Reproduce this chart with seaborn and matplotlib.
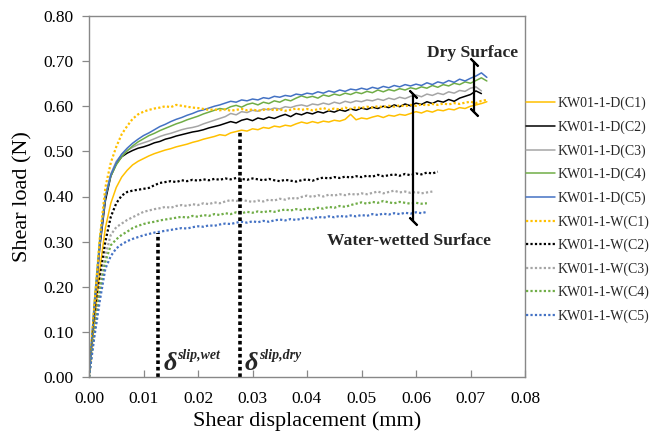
import numpy as np
import pandas as pd
import matplotlib
matplotlib.use("Agg")
import matplotlib.pyplot as plt
import seaborn as sns

# ---------------- data ----------------
STEP = 0.001  # mm between samples

d_c1 = [0.00, 0.12, 0.24, 0.33, 0.385, 0.420, 0.443, 0.458, 0.470, 0.478,
        0.484, 0.490, 0.495, 0.499, 0.503, 0.506, 0.510, 0.513, 0.516, 0.520,
        0.523, 0.527, 0.530, 0.533, 0.537, 0.535, 0.541, 0.544, 0.547, 0.545,
        0.550, 0.548, 0.553, 0.551, 0.556, 0.554, 0.558, 0.556, 0.561, 0.565,
        0.562, 0.566, 0.563, 0.567, 0.565, 0.569, 0.567, 0.571, 0.582, 0.570,
        0.574, 0.572, 0.576, 0.579, 0.575, 0.580, 0.578, 0.582, 0.580, 0.584,
        0.588, 0.585, 0.590, 0.587, 0.592, 0.590, 0.594, 0.592, 0.597, 0.595,
        0.600, 0.603, 0.606, 0.610]
d_c2 = [0.00, 0.15, 0.29, 0.39, 0.445, 0.472, 0.488, 0.496, 0.502, 0.507,
        0.510, 0.514, 0.519, 0.522, 0.527, 0.530, 0.534, 0.537, 0.540, 0.543,
        0.545, 0.548, 0.552, 0.555, 0.558, 0.562, 0.566, 0.563, 0.569, 0.572,
        0.568, 0.574, 0.571, 0.576, 0.573, 0.578, 0.582, 0.577, 0.584, 0.581,
        0.586, 0.583, 0.588, 0.585, 0.590, 0.587, 0.592, 0.589, 0.594, 0.591,
        0.596, 0.593, 0.598, 0.595, 0.600, 0.597, 0.603, 0.599, 0.605, 0.601,
        0.607, 0.604, 0.610, 0.606, 0.612, 0.609, 0.615, 0.611, 0.618, 0.622,
        0.626, 0.634, 0.628]
d_c3 = [0.00, 0.16, 0.30, 0.40, 0.450, 0.478, 0.493, 0.502, 0.509, 0.515,
        0.519, 0.523, 0.528, 0.533, 0.537, 0.540, 0.544, 0.548, 0.551, 0.553,
        0.556, 0.561, 0.565, 0.569, 0.573, 0.577, 0.584, 0.581, 0.588, 0.586,
        0.591, 0.589, 0.594, 0.592, 0.596, 0.594, 0.599, 0.597, 0.601, 0.603,
        0.600, 0.605, 0.603, 0.607, 0.604, 0.609, 0.606, 0.611, 0.608, 0.612,
        0.610, 0.614, 0.612, 0.616, 0.613, 0.618, 0.615, 0.620, 0.617, 0.622,
        0.625, 0.621, 0.627, 0.624, 0.629, 0.626, 0.632, 0.629, 0.635, 0.633,
        0.640, 0.643, 0.634]
d_c4 = [0.00, 0.17, 0.31, 0.40, 0.445, 0.470, 0.488, 0.501, 0.512, 0.521,
        0.528, 0.535, 0.540, 0.546, 0.551, 0.556, 0.561, 0.565, 0.570, 0.574,
        0.578, 0.583, 0.587, 0.591, 0.595, 0.593, 0.599, 0.602, 0.598, 0.604,
        0.607, 0.603, 0.609, 0.606, 0.612, 0.609, 0.615, 0.612, 0.618, 0.623,
        0.619, 0.622, 0.618, 0.625, 0.622, 0.627, 0.624, 0.629, 0.626, 0.631,
        0.628, 0.633, 0.630, 0.636, 0.632, 0.637, 0.634, 0.639, 0.636, 0.641,
        0.638, 0.643, 0.640, 0.646, 0.642, 0.648, 0.645, 0.651, 0.648, 0.654,
        0.651, 0.657, 0.663, 0.656]
d_c5 = [0.00, 0.16, 0.30, 0.40, 0.448, 0.475, 0.494, 0.507, 0.518, 0.527,
        0.535, 0.541, 0.548, 0.555, 0.560, 0.566, 0.571, 0.575, 0.580, 0.584,
        0.589, 0.592, 0.596, 0.600, 0.603, 0.607, 0.611, 0.609, 0.614, 0.612,
        0.616, 0.614, 0.619, 0.617, 0.622, 0.620, 0.624, 0.622, 0.627, 0.625,
        0.629, 0.627, 0.632, 0.629, 0.634, 0.631, 0.636, 0.633, 0.638, 0.636,
        0.640, 0.637, 0.642, 0.639, 0.644, 0.641, 0.646, 0.643, 0.648, 0.645,
        0.649, 0.646, 0.652, 0.648, 0.654, 0.651, 0.657, 0.653, 0.660, 0.656,
        0.662, 0.667, 0.674, 0.664]
w_c1 = [0.00, 0.16, 0.31, 0.42, 0.475, 0.510, 0.538, 0.556, 0.572, 0.582,
        0.588, 0.592, 0.595, 0.597, 0.600, 0.598, 0.603, 0.601, 0.599, 0.597,
        0.596, 0.594, 0.592, 0.593, 0.591, 0.593, 0.590, 0.592, 0.594, 0.591,
        0.593, 0.590, 0.592, 0.594, 0.591, 0.593, 0.590, 0.592, 0.595, 0.592,
        0.594, 0.591, 0.593, 0.596, 0.592, 0.595, 0.593, 0.597, 0.594, 0.598,
        0.596, 0.599, 0.597, 0.600, 0.598, 0.601, 0.599, 0.602, 0.600, 0.603,
        0.601, 0.604, 0.602, 0.605, 0.603, 0.606, 0.604, 0.607, 0.605, 0.608,
        0.610, 0.607, 0.612, 0.614]
w_c2 = [0.00, 0.12, 0.22, 0.30, 0.355, 0.385, 0.402, 0.410, 0.413, 0.415,
        0.417, 0.419, 0.425, 0.430, 0.432, 0.434, 0.432, 0.436, 0.434, 0.437,
        0.435, 0.438, 0.436, 0.439, 0.437, 0.440, 0.438, 0.441, 0.439, 0.437,
        0.440, 0.438, 0.436, 0.439, 0.436, 0.434, 0.437, 0.435, 0.433, 0.436,
        0.438, 0.435, 0.439, 0.442, 0.440, 0.443, 0.441, 0.444, 0.442, 0.445,
        0.443, 0.446, 0.444, 0.448, 0.445, 0.447, 0.449, 0.446, 0.450, 0.447,
        0.451, 0.449, 0.453, 0.451, 0.455]
w_c3 = [0.00, 0.11, 0.20, 0.27, 0.315, 0.332, 0.340, 0.348, 0.354, 0.360,
        0.366, 0.369, 0.372, 0.374, 0.377, 0.375, 0.379, 0.381, 0.379, 0.383,
        0.381, 0.385, 0.383, 0.387, 0.385, 0.389, 0.392, 0.390, 0.393, 0.390,
        0.388, 0.391, 0.389, 0.393, 0.391, 0.395, 0.393, 0.397, 0.395, 0.399,
        0.402, 0.399, 0.403, 0.400, 0.404, 0.402, 0.405, 0.403, 0.406, 0.404,
        0.407, 0.405, 0.408, 0.411, 0.407, 0.410, 0.413, 0.409, 0.411, 0.408,
        0.410, 0.407, 0.409, 0.411]
w_c4 = [0.00, 0.10, 0.19, 0.255, 0.292, 0.305, 0.315, 0.322, 0.330, 0.335,
        0.339, 0.342, 0.344, 0.347, 0.349, 0.351, 0.353, 0.355, 0.353, 0.357,
        0.355, 0.359, 0.357, 0.361, 0.359, 0.363, 0.361, 0.365, 0.363, 0.366,
        0.364, 0.367, 0.365, 0.368, 0.366, 0.369, 0.371, 0.369, 0.372, 0.370,
        0.373, 0.371, 0.375, 0.373, 0.377, 0.375, 0.379, 0.377, 0.381, 0.384,
        0.387, 0.384, 0.388, 0.386, 0.390, 0.387, 0.385, 0.388, 0.386, 0.384,
        0.386, 0.384, 0.385]
w_c5 = [0.00, 0.09, 0.17, 0.24, 0.268, 0.285, 0.294, 0.301, 0.306, 0.310,
        0.314, 0.317, 0.320, 0.322, 0.324, 0.326, 0.328, 0.330, 0.329, 0.332,
        0.334, 0.333, 0.336, 0.335, 0.338, 0.340, 0.339, 0.342, 0.344, 0.342,
        0.345, 0.343, 0.346, 0.344, 0.347, 0.349, 0.347, 0.350, 0.348, 0.351,
        0.353, 0.351, 0.355, 0.353, 0.356, 0.354, 0.357, 0.355, 0.358, 0.356,
        0.359, 0.357, 0.361, 0.359, 0.362, 0.360, 0.363, 0.361, 0.364, 0.362,
        0.365, 0.363, 0.366]

labels = ["KW01-1-D(C1)", "KW01-1-D(C2)", "KW01-1-D(C3)", "KW01-1-D(C4)", "KW01-1-D(C5)",
          "KW01-1-W(C1)", "KW01-1-W(C2)", "KW01-1-W(C3)", "KW01-1-W(C4)", "KW01-1-W(C5)"]
series = [d_c1, d_c2, d_c3, d_c4, d_c5, w_c1, w_c2, w_c3, w_c4, w_c5]

x_ticks = [0.00, 0.01, 0.02, 0.03, 0.04, 0.05, 0.06, 0.07, 0.08]
y_ticks = [0.00, 0.10, 0.20, 0.30, 0.40, 0.50, 0.60, 0.70, 0.80]

# annotation values (mm / N)
slip_wet_x, slip_wet_top = 0.0126, 0.320
slip_dry_x, slip_dry_top = 0.0277, 0.547
wet_bar_x, wet_bar_lo, wet_bar_hi = 0.0595, 0.345, 0.628
dry_bar_x, dry_bar_lo, dry_bar_hi = 0.0707, 0.587, 0.698

# ---------------- styling ----------------
sns.set_theme(style="white")
plt.rcParams["font.family"] = ["Liberation Serif", "DejaVu Serif"]

colors = ["#FFC000", "#000000", "#A5A5A5", "#70AD47", "#4472C4"] * 2
palette = dict(zip(labels, colors))
dashes = {lab: ("" if i < 5 else (1, 1)) for i, lab in enumerate(labels)}

rows = []
for lab, vals in zip(labels, series):
    for i, v in enumerate(vals):
        rows.append((lab, round(i * STEP, 4), v))
df = pd.DataFrame(rows, columns=["series", "disp", "load"])

fig = plt.figure(figsize=(6.49, 4.34), dpi=100)
ax = fig.add_axes([89 / 649, 1 - 377 / 434, (525 - 89) / 649, (377 - 16) / 434])

sns.lineplot(data=df, x="disp", y="load", hue="series", style="series",
             hue_order=labels, style_order=labels, palette=palette,
             dashes=dashes, estimator=None, sort=True, linewidth=1.1, ax=ax)
for ln in ax.get_lines():
    if ln.get_linestyle() != "-":
        ln.set_linewidth(1.6)

ax.set_xlim(0, 0.08)
ax.set_ylim(0, 0.80)
ax.set_xticks(x_ticks)
ax.set_yticks(y_ticks)
ax.set_xticklabels([f"{t:.2f}" for t in x_ticks], fontsize=12.5)
ax.set_yticklabels([f"{t:.2f}" for t in y_ticks], fontsize=12.5)
ax.tick_params(axis="x", bottom=True, direction="in", length=5, width=0.9,
               color="#888888", pad=10, labelcolor="black")
ax.tick_params(axis="y", left=True, direction="out", length=5, width=0.9,
               color="#888888", pad=6, labelcolor="black")
for sp in ax.spines.values():
    sp.set_color("#888888")
    sp.set_linewidth(1.0)
ax.set_xlabel("Shear displacement (mm)", fontsize=16, labelpad=3, color="black")
ax.set_ylabel("Shear load (N)", fontsize=16, labelpad=8, color="black")

# slip displacement markers
ax.plot([slip_wet_x, slip_wet_x], [0, slip_wet_top], color="black",
        linestyle=(0, (1, 0.8)), linewidth=2.6)
ax.plot([slip_dry_x, slip_dry_x], [0, slip_dry_top], color="black",
        linestyle=(0, (1, 0.8)), linewidth=2.6)

# range bars
for bx, lo, hi in [(wet_bar_x, wet_bar_lo, wet_bar_hi), (dry_bar_x, dry_bar_lo, dry_bar_hi)]:
    ax.plot([bx, bx], [lo, hi], color="black", linewidth=1.6)
    ax.plot([bx, bx], [lo, hi], linestyle="none", marker=(2, 2, 45),
            markersize=8, markeredgewidth=1.5, color="black")

ax.text(0.0703, 0.718, "Dry Surface", fontsize=12.6, fontweight="bold",
        ha="center", va="center")
ax.text(0.0587, 0.301, "Water-wetted Surface", fontsize=12.6, fontweight="bold",
        ha="center", va="center")

for dx, sup in [(0.0136, "slip,wet"), (0.0286, "slip,dry")]:
    ax.text(dx, 0.016, "δ", fontsize=19, fontweight="bold", fontstyle="italic",
            ha="left", va="baseline")
    ax.text(dx + 0.0026, 0.040, sup, fontsize=10, fontweight="bold",
            fontstyle="italic", ha="left", va="baseline")

# legend
handles, labs = ax.get_legend_handles_labels()
for h in handles[5:]:
    h.set_linewidth(1.6)
ax.legend(handles, labs, loc="upper left", bbox_to_anchor=(526 / 649, 1 - 97 / 434),
          bbox_transform=fig.transFigure, frameon=False, fontsize=10,
          handlelength=2.1, handletextpad=0.2, labelspacing=0.73,
          borderaxespad=0, borderpad=0)

fig.savefig("out.png", dpi=100)
